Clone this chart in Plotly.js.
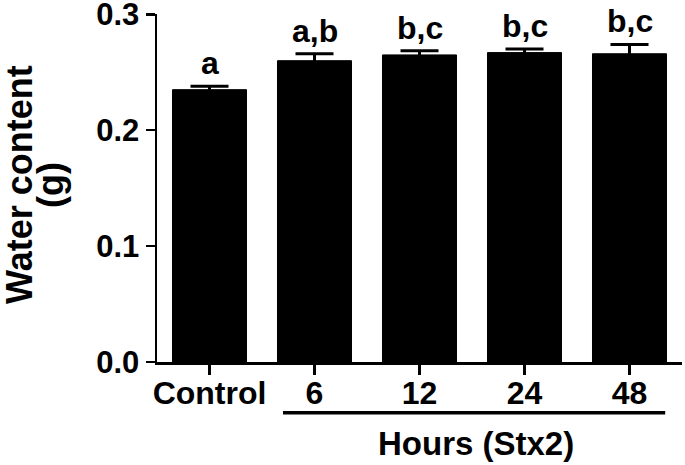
<!DOCTYPE html>
<html>
<head>
<meta charset="utf-8">
<script src="https://cdn.plot.ly/plotly-3.0.1.min.js"></script>
<style>
  body { margin: 0; background: #fff; }
  #plot { width: 685px; height: 465px; }
</style>
</head>
<body>
<div id="plot"></div>
<script>
// groups and measured water content (g)
var groups = ["Control", "6", "12", "24", "48"];
var waterContent = [0.235, 0.260, 0.265, 0.267, 0.266];
var sem = [0.003, 0.006, 0.0035, 0.003, 0.008];
var letters = ["a", "a,b", "b,c", "b,c", "b,c"];
var yTicks = [0, 0.1, 0.2, 0.3];
var yTickText = ["0.0", "0.1", "0.2", "0.3"];

var font = "Arial, 'Liberation Sans', sans-serif";

var bars = {
  x: groups,
  y: waterContent,
  type: "bar",
  marker: { color: "#000000", line: { color: "#000000", width: 1 } },
  error_y: {
    type: "data",
    array: sem,
    visible: true,
    color: "#000000",
    thickness: 3,
    width: 19
  },
  hoverinfo: "none"
};

// letters above the bars (category index, since "6" etc. would read as numbers)
var annotations = groups.map(function (g, i) {
  return {
    x: i,
    y: waterContent[i] + sem[i],
    xref: "x",
    yref: "y",
    text: letters[i],
    showarrow: false,
    yanchor: "bottom",
    yshift: 3,
    font: { family: font, size: 32, color: "#000", weight: "bold" }
  };
});

annotations.push({
  x: 2.54,
  y: -0.235,
  xref: "x",
  yref: "paper",
  text: "Hours (Stx2)",
  showarrow: false,
  xanchor: "center",
  yanchor: "middle",
  font: { family: font, size: 33, color: "#000", weight: "bold" }
});

// y title, two lines set a bit closer than plotly's <br> spacing
annotations.push({
  x: -0.262, y: 0.51, xref: "paper", yref: "paper",
  text: "Water content", textangle: -90, showarrow: false,
  xanchor: "center", yanchor: "middle",
  font: { family: font, size: 36, color: "#000", weight: "bold" }
});
annotations.push({
  x: -0.203, y: 0.51, xref: "paper", yref: "paper",
  text: "(g)", textangle: -90, showarrow: false,
  xanchor: "center", yanchor: "middle",
  font: { family: font, size: 36, color: "#000", weight: "bold" }
});

var layout = {
  width: 685,
  height: 465,
  margin: { l: 157, r: 3, t: 14, b: 103 },
  paper_bgcolor: "#ffffff",
  plot_bgcolor: "#ffffff",
  showlegend: false,
  bargap: 0.295,
  font: { family: font, color: "#000" },
  xaxis: {
    type: "category",
    range: [-0.5, 4.5],
    showline: true,
    linewidth: 2.5,
    linecolor: "#000",
    ticks: "outside",
    ticklen: 10,
    tickwidth: 2.5,
    tickcolor: "#000",
    ticklabelstandoff: -9,
    showgrid: false,
    zeroline: false,
    tickfont: { family: font, size: 32, color: "#000", weight: "bold" },
    fixedrange: true
  },
  yaxis: {
    range: [0, 0.3003],
    tickmode: "array",
    tickvals: yTicks,
    ticktext: yTickText,
    ticklabeloverflow: "allow",
    showline: true,
    linewidth: 2.5,
    linecolor: "#000",
    ticks: "outside",
    ticklen: 9,
    tickwidth: 2.5,
    tickcolor: "#000",
    showgrid: false,
    zeroline: false,
    tickfont: { family: font, size: 31, color: "#000", weight: "bold" },
    automargin: false,
    fixedrange: true
  },
  shapes: [{
    type: "line",
    xref: "x",
    yref: "paper",
    x0: 0.70,
    x1: 4.34,
    y0: -0.146,
    y1: -0.146,
    line: { color: "#000", width: 3.5 }
  }],
  annotations: annotations
};

Plotly.newPlot("plot", [bars], layout, { displayModeBar: false, staticPlot: true });
</script>
</body>
</html>
